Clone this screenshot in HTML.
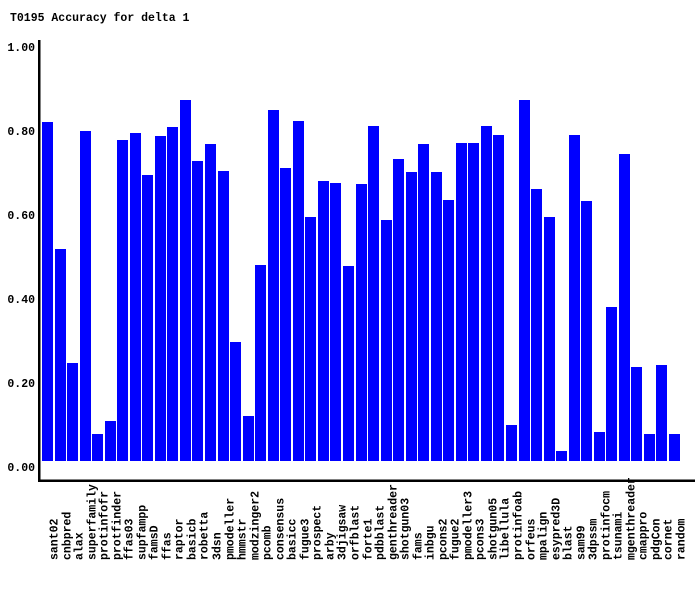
<!DOCTYPE html>
<html><head><meta charset="utf-8"><style>
html,body{margin:0;padding:0;background:#fff;}
svg{display:block;}
text{font-family:"Liberation Mono",monospace;font-weight:bold;fill:#000;}
</style></head><body>
<svg width="700" height="590" xmlns="http://www.w3.org/2000/svg">
<text x="10" y="21" font-size="11.5">T0195 Accuracy for delta 1</text>
<g font-size="11.5" text-anchor="end">
<text x="35" y="51">1.00</text>
<text x="35" y="135">0.80</text>
<text x="35" y="219">0.60</text>
<text x="35" y="303">0.40</text>
<text x="35" y="387">0.20</text>
<text x="35" y="471">0.00</text>
</g>
<rect x="38" y="40" width="2.5" height="442" fill="#000"/>
<rect x="38" y="479.5" width="657" height="2.5" fill="#000"/>
<g fill="#0000ff">
<rect x="42" y="122" width="11" height="339"/>
<rect x="55" y="249" width="11" height="212"/>
<rect x="67" y="363" width="11" height="98"/>
<rect x="80" y="131" width="11" height="330"/>
<rect x="92" y="434" width="11" height="27"/>
<rect x="105" y="421" width="11" height="40"/>
<rect x="117" y="140" width="11" height="321"/>
<rect x="130" y="133" width="11" height="328"/>
<rect x="142" y="175" width="11" height="286"/>
<rect x="155" y="136" width="11" height="325"/>
<rect x="167" y="127" width="11" height="334"/>
<rect x="180" y="100" width="11" height="361"/>
<rect x="192" y="161" width="11" height="300"/>
<rect x="205" y="144" width="11" height="317"/>
<rect x="218" y="171" width="11" height="290"/>
<rect x="230" y="342" width="11" height="119"/>
<rect x="243" y="416" width="11" height="45"/>
<rect x="255" y="265" width="11" height="196"/>
<rect x="268" y="110" width="11" height="351"/>
<rect x="280" y="168" width="11" height="293"/>
<rect x="293" y="121" width="11" height="340"/>
<rect x="305" y="217" width="11" height="244"/>
<rect x="318" y="181" width="11" height="280"/>
<rect x="330" y="183" width="11" height="278"/>
<rect x="343" y="266" width="11" height="195"/>
<rect x="356" y="184" width="11" height="277"/>
<rect x="368" y="126" width="11" height="335"/>
<rect x="381" y="220" width="11" height="241"/>
<rect x="393" y="159" width="11" height="302"/>
<rect x="406" y="172" width="11" height="289"/>
<rect x="418" y="144" width="11" height="317"/>
<rect x="431" y="172" width="11" height="289"/>
<rect x="443" y="200" width="11" height="261"/>
<rect x="456" y="143" width="11" height="318"/>
<rect x="468" y="143" width="11" height="318"/>
<rect x="481" y="126" width="11" height="335"/>
<rect x="493" y="135" width="11" height="326"/>
<rect x="506" y="425" width="11" height="36"/>
<rect x="519" y="100" width="11" height="361"/>
<rect x="531" y="189" width="11" height="272"/>
<rect x="544" y="217" width="11" height="244"/>
<rect x="556" y="451" width="11" height="10"/>
<rect x="569" y="135" width="11" height="326"/>
<rect x="581" y="201" width="11" height="260"/>
<rect x="594" y="432" width="11" height="29"/>
<rect x="606" y="307" width="11" height="154"/>
<rect x="619" y="154" width="11" height="307"/>
<rect x="631" y="367" width="11" height="94"/>
<rect x="644" y="434" width="11" height="27"/>
<rect x="656" y="365" width="11" height="96"/>
<rect x="669" y="434" width="11" height="27"/>
</g>
<g font-size="11.5" text-anchor="start">
<text transform="translate(57.5,560) rotate(-90)">sant02</text>
<text transform="translate(70.5,560) rotate(-90)">cnbpred</text>
<text transform="translate(82.5,560) rotate(-90)">alax</text>
<text transform="translate(95.5,560) rotate(-90)">superfamily</text>
<text transform="translate(107.5,560) rotate(-90)">protinfofr</text>
<text transform="translate(120.5,560) rotate(-90)">protfinder</text>
<text transform="translate(132.5,560) rotate(-90)">ffas03</text>
<text transform="translate(145.5,560) rotate(-90)">supfampp</text>
<text transform="translate(157.5,560) rotate(-90)">famsD</text>
<text transform="translate(170.5,560) rotate(-90)">ffas</text>
<text transform="translate(182.5,560) rotate(-90)">raptor</text>
<text transform="translate(195.5,560) rotate(-90)">basicb</text>
<text transform="translate(207.5,560) rotate(-90)">robetta</text>
<text transform="translate(220.5,560) rotate(-90)">3dsn</text>
<text transform="translate(233.5,560) rotate(-90)">pmodeller</text>
<text transform="translate(245.5,560) rotate(-90)">hmmstr</text>
<text transform="translate(258.5,560) rotate(-90)">modzinger2</text>
<text transform="translate(270.5,560) rotate(-90)">pcomb</text>
<text transform="translate(283.5,560) rotate(-90)">consensus</text>
<text transform="translate(295.5,560) rotate(-90)">basicc</text>
<text transform="translate(308.5,560) rotate(-90)">fugue3</text>
<text transform="translate(320.5,560) rotate(-90)">prospect</text>
<text transform="translate(333.5,560) rotate(-90)">arby</text>
<text transform="translate(345.5,560) rotate(-90)">3djigsaw</text>
<text transform="translate(358.5,560) rotate(-90)">orfblast</text>
<text transform="translate(371.5,560) rotate(-90)">forte1</text>
<text transform="translate(383.5,560) rotate(-90)">pdbblast</text>
<text transform="translate(396.5,560) rotate(-90)">genthreader</text>
<text transform="translate(408.5,560) rotate(-90)">shotgun03</text>
<text transform="translate(421.5,560) rotate(-90)">fams</text>
<text transform="translate(433.5,560) rotate(-90)">inbgu</text>
<text transform="translate(446.5,560) rotate(-90)">pcons2</text>
<text transform="translate(458.5,560) rotate(-90)">fugue2</text>
<text transform="translate(471.5,560) rotate(-90)">pmodeller3</text>
<text transform="translate(483.5,560) rotate(-90)">pcons3</text>
<text transform="translate(496.5,560) rotate(-90)">shotgun05</text>
<text transform="translate(508.5,560) rotate(-90)">libellula</text>
<text transform="translate(521.5,560) rotate(-90)">protinfoab</text>
<text transform="translate(534.5,560) rotate(-90)">orfeus</text>
<text transform="translate(546.5,560) rotate(-90)">mpalign</text>
<text transform="translate(559.5,560) rotate(-90)">esypred3D</text>
<text transform="translate(571.5,560) rotate(-90)">blast</text>
<text transform="translate(584.5,560) rotate(-90)">sam99</text>
<text transform="translate(596.5,560) rotate(-90)">3dpssm</text>
<text transform="translate(609.5,560) rotate(-90)">protinfocm</text>
<text transform="translate(621.5,560) rotate(-90)">tsunami</text>
<text transform="translate(634.5,560) rotate(-90)">mgenthreader</text>
<text transform="translate(646.5,560) rotate(-90)">cmappro</text>
<text transform="translate(659.5,560) rotate(-90)">pdgCon</text>
<text transform="translate(671.5,560) rotate(-90)">cornet</text>
<text transform="translate(684.5,560) rotate(-90)">random</text>
</g>
</svg>
</body></html>
